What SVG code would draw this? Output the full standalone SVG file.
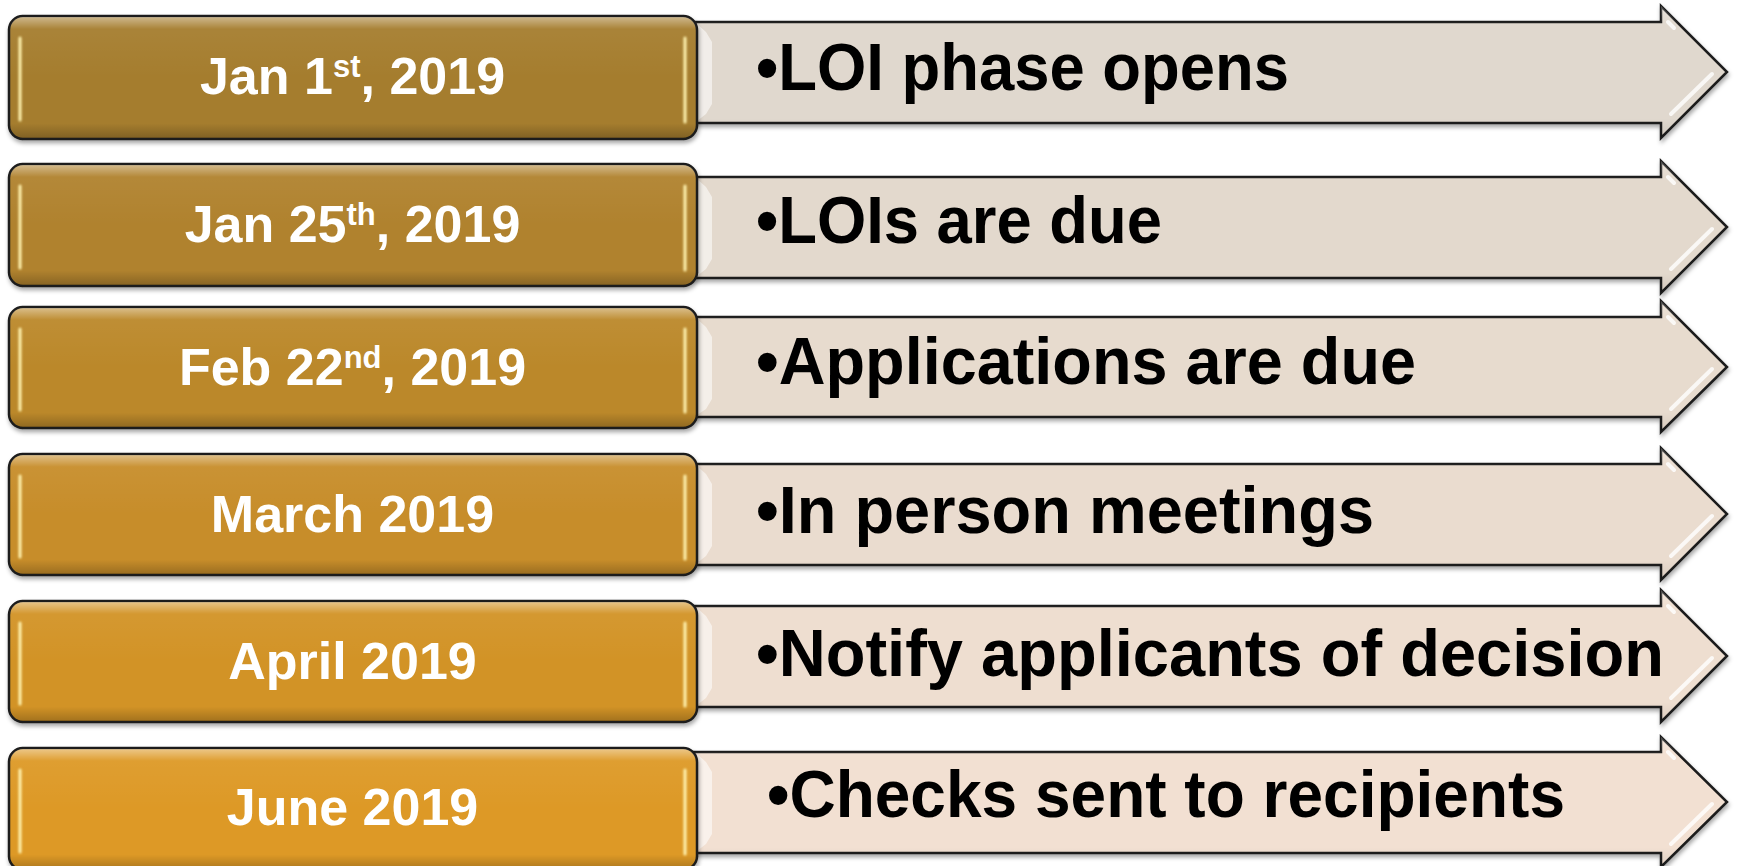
<svg xmlns="http://www.w3.org/2000/svg" width="1738" height="866" viewBox="0 0 1738 866">
<defs>
<filter id="sh" x="-5%" y="-20%" width="110%" height="150%">
<feDropShadow dx="1" dy="3" stdDeviation="2" flood-color="#000" flood-opacity="0.35"/>
</filter>
<filter id="glow" x="-200%" y="-10%" width="500%" height="120%">
<feGaussianBlur stdDeviation="1"/>
</filter>
<linearGradient id="gloss" x1="0" y1="0" x2="0" y2="1">
<stop offset="0" stop-color="#fff" stop-opacity="0.45"/>
<stop offset="0.1" stop-color="#fff" stop-opacity="0.05"/>
<stop offset="0.5" stop-color="#fff" stop-opacity="0"/>
<stop offset="0.88" stop-color="#000" stop-opacity="0"/>
<stop offset="1" stop-color="#000" stop-opacity="0.22"/>
</linearGradient>
<linearGradient id="abev" x1="0" y1="0" x2="0" y2="1">
<stop offset="0" stop-color="#fff" stop-opacity="0.25"/>
<stop offset="0.15" stop-color="#fff" stop-opacity="0"/>
<stop offset="0.85" stop-color="#000" stop-opacity="0"/>
<stop offset="1" stop-color="#000" stop-opacity="0.08"/>
</linearGradient>
</defs>
<style>
.box{stroke:#1b1b1b;stroke-width:2.5}
.arr{stroke:#1b1b1b;stroke-width:2.5;stroke-linejoin:miter}
.hl{stroke:#fff3b0;stroke-width:3;stroke-linecap:round;fill:none}
.ahl{stroke:#fff;stroke-width:4;stroke-linecap:round;fill:none;opacity:0.8}
.date{font-family:"Liberation Sans",Arial,sans-serif;font-weight:bold;font-size:52px;fill:#fff;text-anchor:middle}
.sup{font-size:31px}
.item{font-family:"Liberation Sans",Arial,sans-serif;font-weight:bold;font-size:66px;fill:#000}
</style>
<rect width="1738" height="866" fill="#fff"/>
<g id="connectors"/>

<!-- Row 1 -->
<g id="arrow1" filter="url(#sh)">
<path class="arr" fill="#E0D8CE" d="M680,22 L1661,22 L1661,6 L1727,72 L1661,138 L1661,123 L680,123 Z"/>
<path fill="url(#abev)" d="M680,22 L1661,22 L1661,6 L1727,72 L1661,138 L1661,123 L680,123 Z"/>
<path class="ahl" d="M1671,114 L1712,74 M1668,22 L1674,28"/>
<path fill="#fff" opacity="0.55" d="M697,24 L706,32 L712,42 L712,104 L706,114 L697,121 Z"/>
<text class="item" x="756" y="90" textLength="533" lengthAdjust="spacingAndGlyphs">•LOI phase opens</text>
</g>
<g id="date1">
<rect class="box" x="9" y="16" width="688" height="123" rx="14" fill="#A57D2F" filter="url(#sh)"/>
<rect x="10" y="17" width="686" height="121" rx="13" fill="url(#gloss)"/>
<path class="hl" filter="url(#glow)" d="M20,38 L20,120 M685,38 L685,122"/>
<text class="date" x="352.5" y="94">Jan 1<tspan class="sup" dy="-17">st</tspan><tspan dy="17">, 2019</tspan></text>
</g>

<!-- Row 2 -->
<g id="arrow2" filter="url(#sh)">
<path class="arr" fill="#E3D9CD" d="M680,177 L1661,177 L1661,161 L1727,227 L1661,293 L1661,278 L680,278 Z"/>
<path fill="url(#abev)" d="M680,177 L1661,177 L1661,161 L1727,227 L1661,293 L1661,278 L680,278 Z"/>
<path class="ahl" d="M1671,269 L1712,229 M1668,177 L1674,183"/>
<path fill="#fff" opacity="0.55" d="M697,179 L706,187 L712,197 L712,259 L706,269 L697,276 Z"/>
<text class="item" x="756" y="243" textLength="406" lengthAdjust="spacingAndGlyphs">•LOIs are due</text>
</g>
<g id="date2">
<rect class="box" x="9" y="164" width="688" height="122" rx="14" fill="#B0822D" filter="url(#sh)"/>
<rect x="10" y="165" width="686" height="120" rx="13" fill="url(#gloss)"/>
<path class="hl" filter="url(#glow)" d="M20,186 L20,268 M685,186 L685,270"/>
<text class="date" x="352.5" y="242">Jan 25<tspan class="sup" dy="-17">th</tspan><tspan dy="17">, 2019</tspan></text>
</g>

<!-- Row 3 -->
<g id="arrow3" filter="url(#sh)">
<path class="arr" fill="#E7DBCE" d="M680,317 L1661,317 L1661,301 L1727,367 L1661,432 L1661,417 L680,417 Z"/>
<path fill="url(#abev)" d="M680,317 L1661,317 L1661,301 L1727,367 L1661,432 L1661,417 L680,417 Z"/>
<path class="ahl" d="M1671,409 L1712,369 M1668,317 L1674,323"/>
<path fill="#fff" opacity="0.55" d="M697,319 L706,327 L712,337 L712,399 L706,409 L697,415 Z"/>
<text class="item" x="756" y="384" textLength="660" lengthAdjust="spacingAndGlyphs">•Applications are due</text>
</g>
<g id="date3">
<rect class="box" x="9" y="307" width="688" height="121" rx="14" fill="#BB882B" filter="url(#sh)"/>
<rect x="10" y="308" width="686" height="119" rx="13" fill="url(#gloss)"/>
<path class="hl" filter="url(#glow)" d="M20,329 L20,410 M685,329 L685,412"/>
<text class="date" x="352.5" y="385">Feb 22<tspan class="sup" dy="-17">nd</tspan><tspan dy="17">, 2019</tspan></text>
</g>

<!-- Row 4 -->
<g id="arrow4" filter="url(#sh)">
<path class="arr" fill="#EADCCF" d="M680,464 L1661,464 L1661,448 L1727,514 L1661,580 L1661,565 L680,565 Z"/>
<path fill="url(#abev)" d="M680,464 L1661,464 L1661,448 L1727,514 L1661,580 L1661,565 L680,565 Z"/>
<path class="ahl" d="M1671,556 L1712,516 M1668,464 L1674,470"/>
<path fill="#fff" opacity="0.55" d="M697,466 L706,474 L712,484 L712,546 L706,556 L697,563 Z"/>
<text class="item" x="756" y="533" textLength="618" lengthAdjust="spacingAndGlyphs">•In person meetings</text>
</g>
<g id="date4">
<rect class="box" x="9" y="454" width="688" height="121" rx="14" fill="#C78D29" filter="url(#sh)"/>
<rect x="10" y="455" width="686" height="119" rx="13" fill="url(#gloss)"/>
<path class="hl" filter="url(#glow)" d="M20,476 L20,557 M685,476 L685,559"/>
<text class="date" x="352.5" y="532">March 2019</text>
</g>

<!-- Row 5 -->
<g id="arrow5" filter="url(#sh)">
<path class="arr" fill="#EEDED0" d="M680,606 L1661,606 L1661,590 L1727,656 L1661,722 L1661,707 L680,707 Z"/>
<path fill="url(#abev)" d="M680,606 L1661,606 L1661,590 L1727,656 L1661,722 L1661,707 L680,707 Z"/>
<path class="ahl" d="M1671,698 L1712,658 M1668,606 L1674,612"/>
<path fill="#fff" opacity="0.55" d="M697,608 L706,616 L712,626 L712,688 L706,698 L697,705 Z"/>
<text class="item" x="756" y="676" textLength="908" lengthAdjust="spacingAndGlyphs">•Notify applicants of decision</text>
</g>
<g id="date5">
<rect class="box" x="9" y="601" width="688" height="121" rx="14" fill="#D29327" filter="url(#sh)"/>
<rect x="10" y="602" width="686" height="119" rx="13" fill="url(#gloss)"/>
<path class="hl" filter="url(#glow)" d="M20,623 L20,704 M685,623 L685,706"/>
<text class="date" x="352.5" y="679">April 2019</text>
</g>

<!-- Row 6 -->
<g id="arrow6" filter="url(#sh)">
<path class="arr" fill="#F2E0D2" d="M680,752 L1661,752 L1661,737 L1727,802 L1661,867 L1661,853 L680,853 Z"/>
<path fill="url(#abev)" d="M680,752 L1661,752 L1661,737 L1727,802 L1661,867 L1661,853 L680,853 Z"/>
<path class="ahl" d="M1671,844 L1712,804 M1668,752 L1674,758"/>
<path fill="#fff" opacity="0.55" d="M697,754 L706,762 L712,772 L712,834 L706,844 L697,851 Z"/>
<text class="item" x="767" y="817" textLength="798" lengthAdjust="spacingAndGlyphs">•Checks sent to recipients</text>
</g>
<g id="date6">
<rect class="box" x="9" y="748" width="688" height="122" rx="14" fill="#DD9925" filter="url(#sh)"/>
<rect x="10" y="749" width="686" height="120" rx="13" fill="url(#gloss)"/>
<path class="hl" filter="url(#glow)" d="M20,770 L20,852 M685,770 L685,854"/>
<text class="date" x="352.5" y="825">June 2019</text>
</g>
</svg>
